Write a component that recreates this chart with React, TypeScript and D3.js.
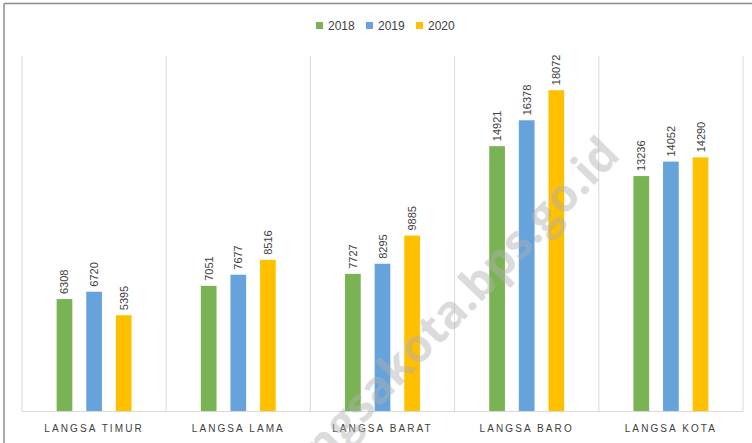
import React from "react";
import * as d3 from "d3";

const categories = ["LANGSA TIMUR", "LANGSA LAMA", "LANGSA BARAT", "LANGSA BARO", "LANGSA KOTA"];
const seriesNames = ["2018", "2019", "2020"];
const values2018 = [6308, 7051, 7727, 14921, 13236];
const values2019 = [6720, 7677, 8295, 16378, 14052];
const values2020 = [5395, 8516, 9885, 18072, 14290];
const seriesValues = [values2018, values2019, values2020];
const colors = ["#7AB353", "#66A3DA", "#FFC000"];

const W = 752;
const H = 443;
const plot = { left: 22, right: 743, top: 56, bottom: 411 };

export default function App() {
  const x = d3.scaleBand<string>().domain(categories).range([plot.left, plot.right]).padding(0);
  const xs = d3
    .scaleBand<string>()
    .domain(seriesNames)
    .range([0, x.bandwidth()])
    .paddingInner(0.47)
    .paddingOuter(1.17);
  const y = d3.scaleLinear().domain([0, 20000]).range([plot.bottom, plot.top]);

  const dividers = categories.map((c) => x(c)!).concat([plot.right]);
  const legendX = [316, 366, 416];

  return (
    <svg
      width={W}
      height={H}
      style={{ position: "absolute", left: 0, top: 0, background: "#fff" }}
      fontFamily="'Liberation Sans', Arial, sans-serif"
    >
      <rect x={0} y={0} width={W} height={H} fill="#fff" />
      {/* frame */}
      <line x1={4} y1={3.5} x2={W} y2={3.5} stroke="#8c8c8c" strokeWidth={1.5} />
      <line x1={4} y1={3.5} x2={4} y2={H} stroke="#8c8c8c" strokeWidth={1.5} />

      {/* legend */}
      {seriesNames.map((s, i) => (
        <g key={s}>
          <rect x={legendX[i]} y={22} width={7} height={7} fill={colors[i]} />
          <text x={legendX[i] + 12} y={30} fontSize={12} fill="#404040">
            {s}
          </text>
        </g>
      ))}

      {/* dividers */}
      {dividers.map((d, i) => (
        <line key={i} x1={d} x2={d} y1={plot.top} y2={plot.bottom} stroke="#d9d9d9" strokeWidth={1} />
      ))}
      <line x1={plot.left} x2={plot.right} y1={plot.bottom + 0.5} y2={plot.bottom + 0.5} stroke="#d9d9d9" strokeWidth={1} />

      {/* bars */}
      {categories.map((c, ci) => (
        <g key={c}>
          {seriesNames.map((s, si) => {
            const v = seriesValues[si][ci];
            const bx = x(c)! + xs(s)!;
            const by = y(v);
            return (
              <g key={s}>
                <rect x={bx} y={by} width={xs.bandwidth()} height={plot.bottom - by} fill={colors[si]} />
                <text
                  transform={`translate(${bx + xs.bandwidth() / 2 + 4},${by - 5}) rotate(-90)`}
                  fontSize={11}
                  fill="#404040"
                >
                  {v}
                </text>
              </g>
            );
          })}
          <text
            x={x(c)! + x.bandwidth() / 2}
            y={432}
            textAnchor="middle"
            fontSize={10}
            letterSpacing={2.1}
            fill="#404040"
          >
            {c}
          </text>
        </g>
      ))}

      {/* watermark */}
      <text
        transform="translate(458,326) rotate(-46)"
        textAnchor="middle"
        fontSize={46}
        fontWeight="bold"
        fill="#b0b0b0"
        opacity={0.45}
        fontFamily="'Open Sans', sans-serif"
      >
        langsakota.bps.go.id
      </text>
    </svg>
  );
}
